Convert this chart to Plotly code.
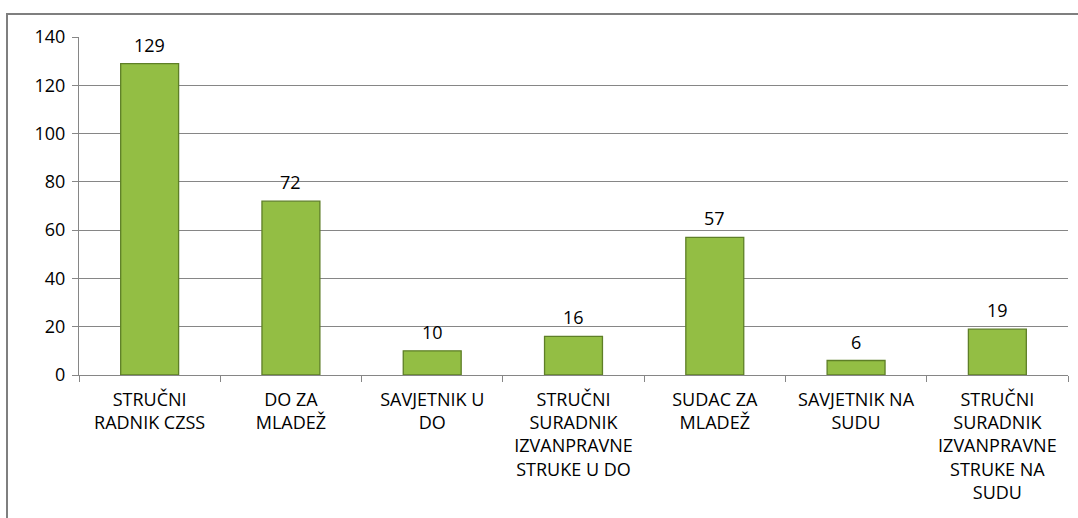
import plotly.graph_objects as go

categories = [
    "STRUČNI<br>RADNIK CZSS",
    "DO ZA<br>MLADEŽ",
    "SAVJETNIK U<br>DO",
    "STRUČNI<br>SURADNIK<br>IZVANPRAVNE<br>STRUKE U DO",
    "SUDAC ZA<br>MLADEŽ",
    "SAVJETNIK NA<br>SUDU",
    "STRUČNI<br>SURADNIK<br>IZVANPRAVNE<br>STRUKE NA<br>SUDU",
]
values = [129, 72, 10, 16, 57, 6, 19]
y_ticks = [0, 20, 40, 60, 80, 100, 120, 140]

FONT = "Open Sans, Lato, sans-serif"

fig = go.Figure(
    go.Bar(
        x=categories,
        y=values,
        width=0.41,
        marker=dict(color="#93be44", line=dict(color="#5e7f27", width=1.3)),
        hoverinfo="x+y",
    )
)

for c, v in zip(categories, values):
    fig.add_annotation(
        x=c, y=v, text=str(v), showarrow=False,
        yanchor="middle", yshift=19,
        font=dict(size=18, color="#000000", family=FONT),
    )

W, H = 1078, 518
L, R, T, B = 79, 10, 37, 143
pw, ph = W - L - R, H - T - B

fig.update_layout(
    width=W,
    height=H,
    margin=dict(l=L, r=R, t=T, b=B, autoexpand=False),
    paper_bgcolor="white",
    plot_bgcolor="white",
    showlegend=False,
    font=dict(family=FONT, size=18, color="#000000"),
    shapes=[
        dict(
            type="rect",
            xref="paper",
            yref="paper",
            x0=(7 - L) / pw,
            x1=(1085 - L) / pw,
            y0=-(530 - (H - B)) / ph,
            y1=1 + (T - 14) / ph,
            line=dict(color="#7f7f7f", width=2),
            fillcolor="rgba(0,0,0,0)",
            layer="below",
        )
    ],
)

fig.update_yaxes(
    range=[0, 140],
    tickvals=y_ticks,
    showgrid=True,
    gridcolor="#868686",
    gridwidth=1,
    showline=True,
    linecolor="#868686",
    linewidth=1,
    ticks="outside",
    ticklen=6,
    tickcolor="#868686",
    ticklabelstandoff=3,
    tickfont=dict(size=18, family=FONT, color="#000000"),
    zeroline=False,
)
fig.update_xaxes(
    showline=True,
    linecolor="#868686",
    linewidth=1,
    ticks="outside",
    ticklen=6,
    tickcolor="#868686",
    tickson="boundaries",
    tickangle=0,
    ticklabelstandoff=8,
    tickfont=dict(size=18, family=FONT, color="#000000"),
)

fig.write_html(
    "out.html",
    config={"responsive": False, "displayModeBar": False},
    post_script="document.body.style.margin='0';document.body.style.overflow='hidden';",
)
